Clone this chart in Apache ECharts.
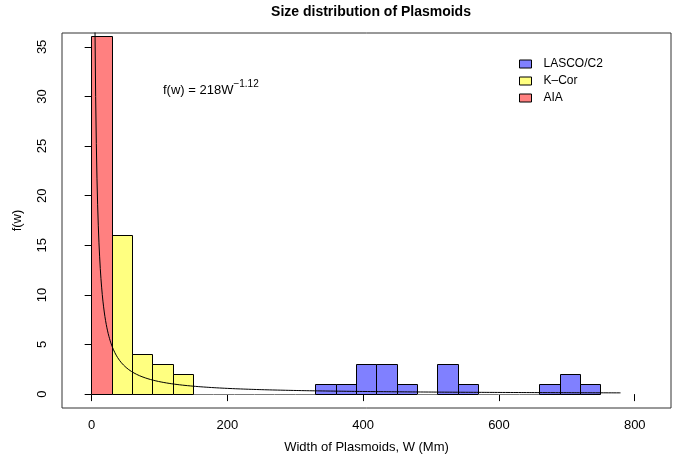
<!DOCTYPE html>
<html>
<head>
<meta charset="utf-8">
<script src="https://cdn.jsdelivr.net/npm/echarts@6/dist/echarts.min.js"></script>
<style>
  html, body { margin: 0; padding: 0; background: #fff; }
  #chart { width: 686px; height: 455px; }
</style>
</head>
<body>
<div id="chart"></div>
<script>
// Histogram bins (left edges, width 30 Mm) and counts for each instrument
const binWidth = 30;
const lascoStarts = [0, 30, 60, 90, 120, 150, 180, 210, 240, 270, 300, 330, 360, 390, 420, 450, 480, 510, 540, 570, 600, 630, 660, 690, 720];
const lascoCounts = [0, 0, 0, 0, 0, 0, 0, 0, 0, 0, 0, 1, 1, 3, 3, 1, 0, 3, 1, 0, 0, 0, 1, 2, 1];
const kcorStarts = [30, 60, 90, 120];
const kcorCounts = [16, 4, 3, 2];
const aiaStarts = [0];
const aiaCounts = [36];

// Power-law fit f(w) = A * W^k
const fitA = 218;
const fitK = -1.12;
const fitFrom = 1;
const fitTo = 780;
const fitSamples = 800;

// Axis ticks
const xTicks = [0, 200, 400, 600, 800];
const yTicks = [0, 5, 10, 15, 20, 25, 30, 35];

const FONT = '"Liberation Sans", Arial, Helvetica, sans-serif';

function bins(starts, counts) {
  return starts.map((s, i) => [s, s + binWidth, counts[i]]);
}

const fitCurve = [];
for (let i = 0; i < fitSamples; i++) {
  const w = fitFrom + (fitTo - fitFrom) * i / (fitSamples - 1);
  fitCurve.push([w, fitA * Math.pow(w, fitK)]);
}

const crisp = v => Math.round(v - 0.5) + 0.5;

function histItem(params, api) {
  const x0 = api.value(0), x1 = api.value(1), n = api.value(2);
  const pBase = api.coord([x0, 0]);
  const pTop = api.coord([x1, n]);
  const left = crisp(pBase[0]), right = crisp(pTop[0]);
  const bottom = crisp(pBase[1]), top = crisp(pTop[1]);
  if (n === 0) {
    return {
      type: 'line',
      shape: { x1: left, y1: bottom, x2: right, y2: bottom },
      style: { stroke: '#7a7a7a', lineWidth: 1 }
    };
  }
  return {
    type: 'rect',
    shape: { x: left, y: top, width: right - left, height: bottom - top },
    style: { fill: api.visual('color'), stroke: '#000', lineWidth: 1 }
  };
}

function histSeries(name, color, data, z) {
  return {
    name: name,
    type: 'custom',
    renderItem: histItem,
    encode: { x: [0, 1], y: 2 },
    itemStyle: { color: color, borderColor: '#000', borderWidth: 1 },
    data: data,
    z: z,
    silent: true
  };
}

const chart = echarts.init(document.getElementById('chart'), null, { renderer: 'canvas' });

chart.setOption({
  animation: false,
  backgroundColor: '#fff',
  textStyle: { fontFamily: FONT },
  title: {
    text: 'Size distribution of Plasmoids',
    left: 366,
    top: 0,
    textAlign: 'center',
    textStyle: { fontFamily: FONT, fontSize: 14, fontWeight: 'bold', color: '#000' }
  },
  legend: {
    orient: 'vertical',
    left: 514,
    top: 52,
    itemWidth: 12,
    itemHeight: 8,
    itemGap: 3,
    icon: 'rect',
    selectedMode: false,
    data: ['LASCO/C2', 'K\u2013Cor', 'AIA'],
    itemStyle: { borderColor: '#000', borderWidth: 1 },
    textStyle: { fontFamily: FONT, fontSize: 12, color: '#000', padding: [0, 0, 0, 7], lineHeight: 14 }
  },
  grid: {
    left: 62, right: 15, top: 33, bottom: 47,
    show: true,
    borderColor: '#333',
    borderWidth: 1,
    outerBoundsMode: 'none'
  },
  xAxis: {
    type: 'value',
    min: -43.7,
    max: 853.4,
    name: 'Width of Plasmoids, W (Mm)',
    nameLocation: 'middle',
    nameGap: 33,
    nameTextStyle: { fontFamily: FONT, fontSize: 13, color: '#000' },
    axisLine: { show: false },
    axisTick: { show: true, length: 7, customValues: xTicks, lineStyle: { color: '#000' } },
    axisLabel: { customValues: xTicks, margin: 11, fontFamily: FONT, fontSize: 13, color: '#000' },
    splitLine: { show: false }
  },
  yAxis: {
    type: 'value',
    min: -1.4,
    max: 36.4,
    name: 'f(w)',
    nameLocation: 'middle',
    nameGap: 38,
    nameTextStyle: { fontFamily: FONT, fontSize: 13, color: '#000' },
    axisLine: { show: false },
    axisTick: { show: true, length: 7, customValues: yTicks, lineStyle: { color: '#000' } },
    axisLabel: { customValues: yTicks, rotate: 90, margin: 13, fontFamily: FONT, fontSize: 13, color: '#000' },
    splitLine: { show: false }
  },
  graphic: [{
    type: 'text',
    left: 163,
    top: 79,
    style: {
      text: '{b|f(w) = 218W}{s|\u22121.12}',
      rich: {
        b: { fontFamily: FONT, fontSize: 13, fill: '#000', verticalAlign: 'bottom', lineHeight: 18 },
        s: { fontFamily: FONT, fontSize: 10, fill: '#000', verticalAlign: 'top', lineHeight: 18 }
      }
    }
  }],
  series: [
    histSeries('LASCO/C2', '#8080FF', bins(lascoStarts, lascoCounts), 2),
    histSeries('K\u2013Cor', '#FFFF80', bins(kcorStarts, kcorCounts), 3),
    histSeries('AIA', '#FF8080', bins(aiaStarts, aiaCounts), 4),
    {
      name: 'fit',
      type: 'line',
      data: fitCurve,
      showSymbol: false,
      symbol: 'none',
      clip: true,
      lineStyle: { color: '#000', width: 1 },
      z: 5,
      silent: true
    }
  ]
});
</script>
</body>
</html>
